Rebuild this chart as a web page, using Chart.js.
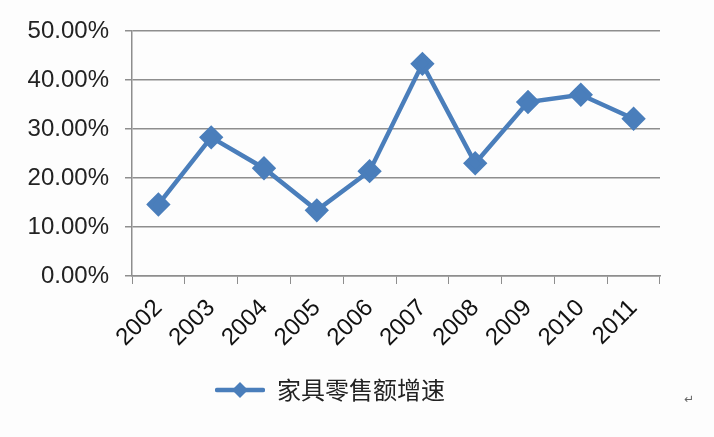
<!DOCTYPE html>
<html>
<head>
<meta charset="utf-8">
<script src="https://cdn.jsdelivr.net/npm/chart.js@4/dist/chart.umd.min.js"></script>
<style>
  html, body { margin: 0; padding: 0; background: #fdfdfd; }
  #wrap { position: relative; width: 714px; height: 437px; }
  #mark { position: absolute; left: 684px; top: 392px; font: 12px "DejaVu Sans"; color: #666; }
</style>
</head>
<body>
<div id="wrap">
  <canvas id="myChart" width="714" height="437"></canvas>
  <span id="mark">↵</span>
</div>
<script>
const years = ['2002', '2003', '2004', '2005', '2006', '2007', '2008', '2009', '2010', '2011'];
const growth = [14.6, 28.3, 22.0, 13.4, 21.4, 43.3, 23.0, 35.5, 37.0, 32.1];
const seriesName = '家具零售额增速';
const yTicks = [0, 10, 20, 30, 40, 50];

const blue = '#4a7ebb';
const gridGray = '#8e8e8e';

// legend swatch: line with a diamond in the middle
function legendSwatch() {
    const c = document.createElement('canvas');
    c.width = 50;
    c.height = 20;
    const g = c.getContext('2d');
    g.strokeStyle = blue;
    g.lineWidth = 4.5;
    g.lineCap = 'round';
    g.beginPath();
    g.moveTo(2, 10);
    g.lineTo(48, 10);
    g.stroke();
    g.fillStyle = blue;
    g.beginPath();
    g.moveTo(25, 2);
    g.lineTo(33, 10);
    g.lineTo(25, 18);
    g.lineTo(17, 10);
    g.closePath();
    g.fill();
    return c;
}
const swatch = legendSwatch();

const ctx = document.getElementById('myChart').getContext('2d');
new Chart(ctx, {
    type: 'line',
    data: {
        labels: years,
        datasets: [{
            label: seriesName,
            data: growth,
            borderColor: blue,
            backgroundColor: blue,
            borderWidth: 4.5,
            pointStyle: 'rectRot',
            pointRadius: 9,
            pointHoverRadius: 9,
            pointBackgroundColor: blue,
            pointBorderColor: blue,
            tension: 0,
            fill: false
        }]
    },
    options: {
        responsive: false,
        animation: false,
        layout: { padding: { left: 0, right: 54, top: 31, bottom: 25 } },
        plugins: {
            tooltip: { enabled: false },
            legend: {
                position: 'bottom',
                labels: {
                    usePointStyle: true,
                    pointStyleWidth: 50,
                    padding: 10,
                    color: '#222',
                    font: { family: '"Noto Sans CJK SC"', size: 24 },
                    generateLabels: chart => chart.data.datasets.map((ds, i) => ({
                        text: ds.label,
                        pointStyle: swatch,
                        fillStyle: blue,
                        strokeStyle: blue,
                        lineWidth: 0,
                        fontColor: '#222',
                        datasetIndex: i
                    }))
                }
            }
        },
        scales: {
            x: {
                offset: true,
                grid: {
                    offset: true,
                    drawOnChartArea: false,
                    color: gridGray,
                    tickLength: 8
                },
                border: { color: gridGray, width: 1.5 },
                ticks: {
                    minRotation: 45,
                    maxRotation: 45,
                    color: '#111',
                    padding: 10,
                    font: { family: '"Liberation Sans"', size: 24 }
                },
                afterFit: scale => { scale.height = 92; }
            },
            y: {
                min: 0,
                max: 50,
                afterBuildTicks: scale => { scale.ticks = yTicks.map(v => ({ value: v })); },
                grid: { color: gridGray, lineWidth: 1.5, tickLength: 7 },
                border: { color: gridGray, width: 1.5 },
                ticks: {
                    color: '#222',
                    padding: 16,
                    font: { family: '"Liberation Sans"', size: 24 },
                    callback: v => v.toFixed(2) + '%'
                },
                afterFit: scale => { scale.width = 132; }
            }
        }
    }
});
</script>
</body>
</html>
